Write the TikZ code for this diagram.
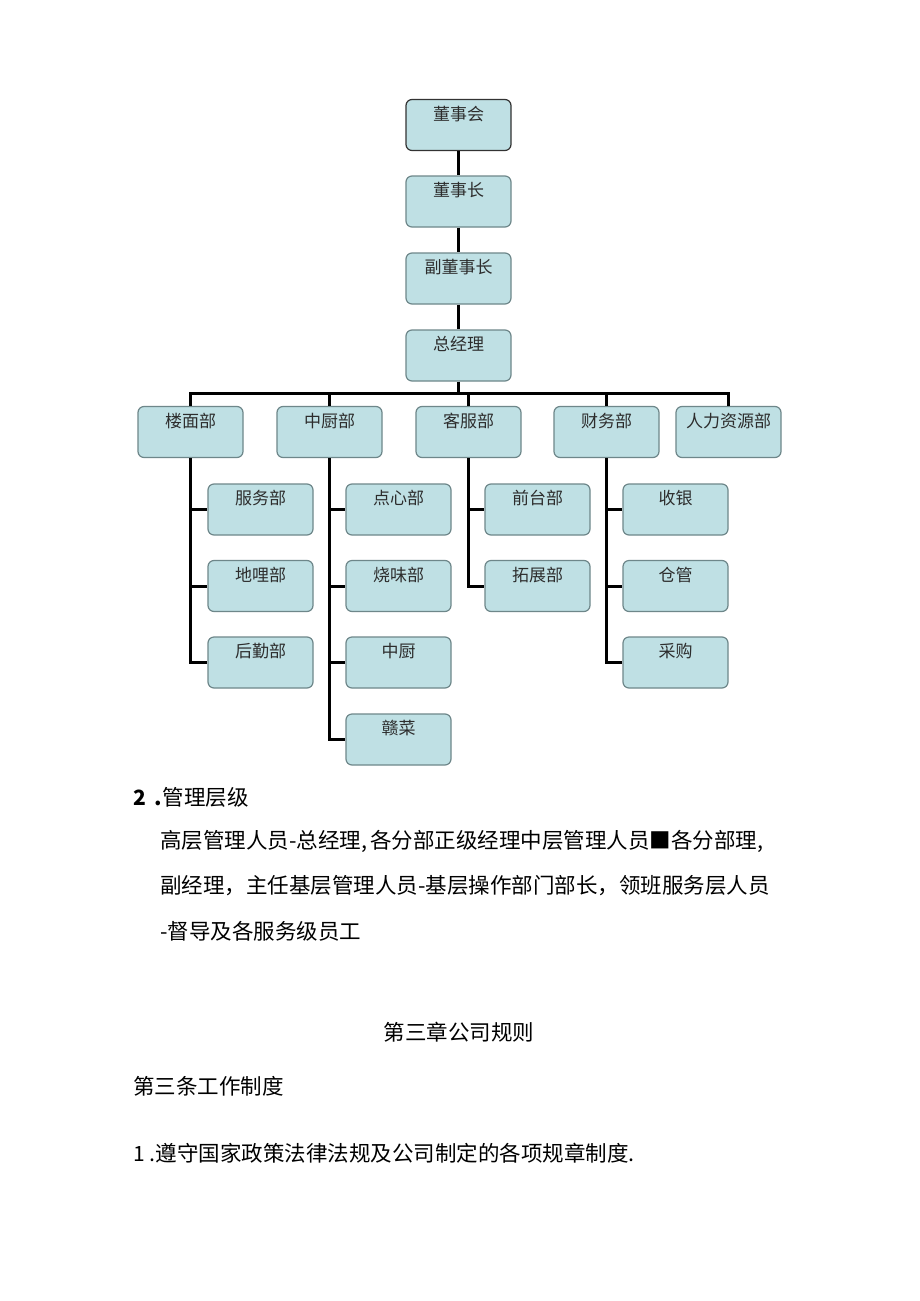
\documentclass[tikz,border=0pt]{standalone}
\usepackage{fontspec}
\setmainfont{Liberation Serif}
\newfontfamily\cjk{Noto Sans CJK SC}
\definecolor{boxfill}{RGB}{191,224,228}
\definecolor{boxline}{RGB}{110,135,138}
\definecolor{txt}{RGB}{45,45,45}
\begin{document}
\begin{tikzpicture}[x=1pt,y=-1pt,
  box/.style={draw=boxline, line width=1.2pt, fill=boxfill, rounded corners=6pt,
    minimum width=105pt, minimum height=51pt, inner sep=0pt},
  lbl/.style={anchor=north, yshift=-7pt, inner sep=0pt, font=\cjk\fontsize{17}{17}\selectfont, text=txt},
  conn/.style={line width=3pt, black},
  para/.style={anchor=west, inner sep=0pt, font=\cjk\fontsize{21.5}{22}\selectfont, text=black}]
\useasboundingbox[fill=white] (0,0) rectangle (920,1301);
% top chain
\node[box, draw=black!80, label={[lbl]north:董事会}] (dsh) at (458.5,125) {};
\node[box, label={[lbl]north:董事长}] (dsz) at (458.5,201.5) {};
\node[box, label={[lbl]north:副董事长}] (fdsz) at (458.5,278.5) {};
\node[box, label={[lbl]north:总经理}] (zjl) at (458.5,355.5) {};
% departments
\node[box, label={[lbl]north:楼面部}] (lm) at (190.5,432) {};
\node[box, label={[lbl]north:中厨部}] (zc) at (329.5,432) {};
\node[box, label={[lbl]north:客服部}] (kf) at (468.5,432) {};
\node[box, label={[lbl]north:财务部}] (cw) at (606.5,432) {};
\node[box, label={[lbl]north:人力资源部}] (rl) at (728.5,432) {};
\coordinate (bus) at (458.5,393);
% sub boxes col1
\node[box, label={[lbl]north:服务部}] (fw) at (260.5,509.5) {};
\node[box, label={[lbl]north:地哩部}] (dl) at (260.5,586) {};
\node[box, label={[lbl]north:后勤部}] (hq) at (260.5,662.5) {};
% col2
\node[box, label={[lbl]north:点心部}] (dx) at (398.5,509.5) {};
\node[box, label={[lbl]north:烧味部}] (sw) at (398.5,586) {};
\node[box, label={[lbl]north:中厨}] (zc2) at (398.5,662.5) {};
\node[box, label={[lbl]north:赣菜}] (gc) at (398.5,739.5) {};
% col3
\node[box, label={[lbl]north:前台部}] (qt) at (537.5,509.5) {};
\node[box, label={[lbl]north:拓展部}] (tz) at (537.5,586) {};
% col4
\node[box, label={[lbl]north:收银}] (sy) at (675.5,509.5) {};
\node[box, label={[lbl]north:仓管}] (cg) at (675.5,586) {};
\node[box, label={[lbl]north:采购}] (cgou) at (675.5,662.5) {};
% connectors
\draw[conn] (dsh) -- (dsz);
\draw[conn] (dsz) -- (fdsz);
\draw[conn] (fdsz) -- (zjl);
\draw[conn] (zjl.south) -- (bus);
\draw[conn] (lm.north) -- (lm.north |- bus) -- (rl.north |- bus) -- (rl.north);
\draw[conn] (zc.north) -- (zc.north |- bus);
\draw[conn] (kf.north) -- (kf.north |- bus);
\draw[conn] (cw.north) -- (cw.north |- bus);
\draw[conn] (lm.south) |- (hq.west);
\draw[conn] (lm.south |- fw.west) -- (fw.west);
\draw[conn] (lm.south |- dl.west) -- (dl.west);
\draw[conn] (zc.south) |- (gc.west);
\draw[conn] (zc.south |- dx.west) -- (dx.west);
\draw[conn] (zc.south |- sw.west) -- (sw.west);
\draw[conn] (zc.south |- zc2.west) -- (zc2.west);
\draw[conn] (kf.south) |- (tz.west);
\draw[conn] (kf.south |- qt.west) -- (qt.west);
\draw[conn] (cw.south) |- (cgou.west);
\draw[conn] (cw.south |- sy.west) -- (sy.west);
\draw[conn] (cw.south |- cg.west) -- (cg.west);
% text
\node[para] (t1) at (133,797) {\textbf{\fontsize{21}{21}\selectfont 2}\hspace{9pt}{\bfseries .}管理层级};
\node[para] (t2) at (160,841) {高层管理人员-总经理,\hspace{3pt}各分部正级经理中层管理人员■各分部理,};
\node[para] (t3) at (160,886) {副经理，主任基层管理人员-基层操作部门部长，领班服务层人员};
\node[para] (t4) at (160,931) {-督导及各服务级员工};
\node[para, anchor=center] (t5) at (459,1032) {第三章公司规则};
\node[para] (t6) at (133,1086) {第三条工作制度};
\node[para] (t7) at (133,1153) {{\fontsize{21}{21}\selectfont 1}\hspace{5pt}.遵守国家政策法律法规及公司制定的各项规章制度.};
\end{tikzpicture}
\end{document}
